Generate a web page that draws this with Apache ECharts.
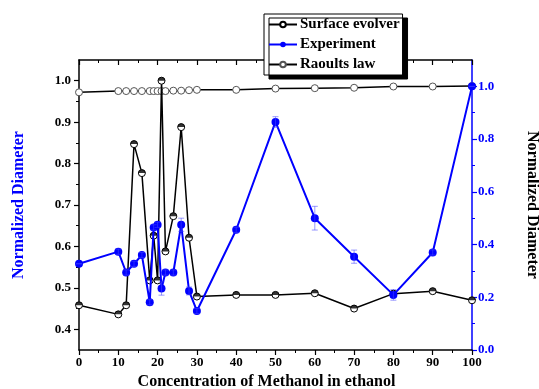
<!DOCTYPE html>
<html>
<head>
<meta charset="utf-8">
<script src="https://cdn.jsdelivr.net/npm/echarts@6/dist/echarts.min.js"></script>
<style>
  html, body { margin: 0; padding: 0; background: #fff; }
  #chart { width: 539px; height: 389px; }
</style>
</head>
<body>
<div id="chart"></div>
<script>
// methanol concentration in ethanol (%)
const concentration = [0, 10, 12, 14, 16, 18, 19, 20, 21, 22, 24, 26, 28, 30, 40, 50, 60, 70, 80, 90, 100];
// left axis
const surfaceEvolver = [0.458, 0.436, 0.458, 0.847, 0.777, 0.518, 0.626, 0.518, 1.0, 0.588, 0.673, 0.888, 0.621, 0.479, 0.483, 0.483, 0.487, 0.450, 0.486, 0.492, 0.470];
const raoultsLaw = [0.972, 0.975, 0.975, 0.975, 0.975, 0.975, 0.975, 0.975, 0.975, 0.975, 0.976, 0.976, 0.977, 0.978, 0.978, 0.981, 0.982, 0.983, 0.986, 0.986, 0.987];
// right axis
const experiment = [0.327, 0.373, 0.294, 0.327, 0.36, 0.181, 0.465, 0.475, 0.233, 0.294, 0.294, 0.475, 0.224, 0.148, 0.456, 0.865, 0.50, 0.354, 0.209, 0.37, 1.0];
const experimentErr = [0, 0.01, 0.01, 0.01, 0.01, 0.01, 0.01, 0.01, 0.025, 0.01, 0.01, 0.025, 0.015, 0.01, 0.01, 0.02, 0.045, 0.025, 0.02, 0.01, 0];

const leftTicks = [0.4, 0.5, 0.6, 0.7, 0.8, 0.9, 1.0];
const leftMinorTicks = [0.45, 0.55, 0.65, 0.75, 0.85, 0.95];
const rightTicks = [0, 0.2, 0.4, 0.6, 0.8, 1.0];
const rightMinorTicks = [0.1, 0.3, 0.5, 0.7, 0.9];

const FONT = '"Liberation Serif", "Times New Roman", serif';
const BLUE = '#0000ff';

const pairs = (ys) => concentration.map((x, i) => [x, ys[i]]);

const chart = echarts.init(document.getElementById('chart'));

const labelStyle = (color) => ({
  color: color, fontFamily: FONT, fontWeight: 'bold', fontSize: 13
});

// grid 1 sits exactly on grid 0 and only carries the minor y ticks
const gridBox = { left: 79, right: 67, top: 60, bottom: 39, outerBoundsMode: 'none', containLabel: false };

const option = {
  animation: false,
  backgroundColor: '#fff',
  grid: [Object.assign({}, gridBox), Object.assign({}, gridBox)],
  legend: {
    orient: 'vertical',
    left: 264,
    top: 14,
    padding: [3, 3, 3, 4],
    itemWidth: 28,
    itemHeight: 7,
    itemGap: 5,
    backgroundColor: '#fff',
    borderColor: '#000',
    borderWidth: 1,
    borderRadius: 0,
    shadowColor: '#000',
    shadowBlur: 0,
    shadowOffsetX: 5,
    shadowOffsetY: 4,
    textStyle: { fontFamily: FONT, fontWeight: 'bold', fontSize: 15, color: '#000', padding: [0, 0, 0, -2] },
    data: ['Surface evolver', 'Experiment', 'Raoults law']
  },
  xAxis: [{
    type: 'value',
    gridIndex: 0,
    min: 0, max: 100, interval: 10,
    name: 'Concentration of Methanol in ethanol',
    nameLocation: 'middle',
    nameGap: 23,
    nameTextStyle: { fontFamily: FONT, fontWeight: 'bold', fontSize: 16, color: '#000', padding: [0, 18, 0, 0] },
    axisLine: { onZero: false, lineStyle: { color: '#000', width: 1.5 } },
    axisTick: { length: 5, lineStyle: { color: '#000', width: 1.2 } },
    minorTick: { show: true, splitNumber: 2, length: 3, lineStyle: { color: '#000', width: 1 } },
    splitLine: { show: false },
    axisLabel: Object.assign({ margin: 6 }, labelStyle('#000'))
  }, {
    type: 'value',
    gridIndex: 0,
    position: 'top',
    min: 0, max: 100, interval: 10,
    axisLine: { onZero: false, lineStyle: { color: '#000', width: 1.5 } },
    axisTick: { inside: true, length: 5, lineStyle: { color: '#000', width: 1.2 } },
    minorTick: { show: true, splitNumber: 2, length: 3, lineStyle: { color: '#000', width: 1 } },
    splitLine: { show: false },
    axisLabel: { show: false }
  }, {
    type: 'value',
    gridIndex: 1,
    min: 0, max: 100,
    show: false
  }],
  yAxis: [{
    type: 'value',
    gridIndex: 0,
    position: 'left',
    min: 0.35, max: 1.05,
    name: 'Normalized Diameter',
    nameLocation: 'middle',
    nameGap: 52,
    nameTextStyle: { fontFamily: FONT, fontWeight: 'bold', fontSize: 16, color: BLUE },
    axisLine: { show: true, onZero: false, lineStyle: { color: '#000', width: 1.5 } },
    axisTick: { show: true, length: 5, customValues: leftTicks, lineStyle: { color: '#000', width: 1.2 } },
    splitLine: { show: false },
    axisLabel: Object.assign({
      margin: 8, customValues: leftTicks,
      formatter: (v) => v.toFixed(1)
    }, labelStyle('#000'))
  }, {
    type: 'value',
    gridIndex: 0,
    position: 'right',
    min: 0, max: 1.1,
    name: 'Normalized Diameter',
    nameLocation: 'middle',
    nameGap: 52,
    nameRotate: -90,
    nameTextStyle: { fontFamily: FONT, fontWeight: 'bold', fontSize: 16, color: '#000' },
    axisLine: { show: true, onZero: false, lineStyle: { color: BLUE, width: 1.5 } },
    axisTick: { show: true, length: 5, customValues: rightTicks, lineStyle: { color: BLUE, width: 1.2 } },
    splitLine: { show: false },
    axisLabel: Object.assign({
      margin: 6, customValues: rightTicks,
      formatter: (v) => v.toFixed(1)
    }, labelStyle(BLUE))
  }, {
    // minor ticks, left
    type: 'value',
    gridIndex: 1,
    position: 'left',
    min: 0.35, max: 1.05,
    axisLine: { show: false },
    axisTick: { show: true, length: 3, customValues: leftMinorTicks, lineStyle: { color: '#000', width: 1 } },
    axisLabel: { show: false },
    splitLine: { show: false }
  }, {
    // minor ticks, right
    type: 'value',
    gridIndex: 1,
    position: 'right',
    min: 0, max: 1.1,
    axisLine: { show: false },
    axisTick: { show: true, length: 3, customValues: rightMinorTicks, lineStyle: { color: BLUE, width: 1 } },
    axisLabel: { show: false },
    splitLine: { show: false }
  }],
  series: [{
    name: 'Raoults law',
    type: 'line',
    yAxisIndex: 0,
    data: pairs(raoultsLaw),
    symbol: 'circle',
    symbolSize: 7,
    lineStyle: { color: '#000', width: 1.5 },
    itemStyle: { color: '#fff', borderColor: '#555', borderWidth: 1 },
    z: 2
  }, {
    name: 'Surface evolver',
    type: 'line',
    yAxisIndex: 0,
    data: pairs(surfaceEvolver),
    symbol: 'circle',
    symbolSize: 7,
    lineStyle: { color: '#000', width: 1.5 },
    itemStyle: { color: '#fff', borderColor: '#000', borderWidth: 1 },
    z: 3
  }, {
    // filled top half of the surface evolver markers
    name: 'Surface evolver',
    type: 'scatter',
    yAxisIndex: 0,
    data: pairs(surfaceEvolver),
    symbol: 'path://M0,5 A5,5 0 0 1 10,5 Z',
    symbolSize: [7, 3.5],
    symbolOffset: [0, -1.75],
    itemStyle: { color: '#000' },
    z: 4
  }, {
    name: 'Experiment',
    type: 'line',
    yAxisIndex: 1,
    data: pairs(experiment),
    symbol: 'circle',
    symbolSize: 8,
    lineStyle: { color: BLUE, width: 2 },
    itemStyle: { color: BLUE },
    z: 5
  }, {
    name: 'Experiment',
    type: 'custom',
    yAxisIndex: 1,
    data: concentration.map((x, i) => [x, experiment[i] - experimentErr[i], experiment[i] + experimentErr[i]]),
    renderItem: (params, api) => {
      const lo = api.coord([api.value(0), api.value(1)]);
      const hi = api.coord([api.value(0), api.value(2)]);
      const w = 3;
      const style = { stroke: 'rgba(70,70,255,0.55)', lineWidth: 1 };
      return {
        type: 'group',
        children: [
          { type: 'line', shape: { x1: lo[0], y1: lo[1], x2: hi[0], y2: hi[1] }, style: style },
          { type: 'line', shape: { x1: lo[0] - w, y1: lo[1], x2: lo[0] + w, y2: lo[1] }, style: style },
          { type: 'line', shape: { x1: hi[0] - w, y1: hi[1], x2: hi[0] + w, y2: hi[1] }, style: style }
        ]
      };
    },
    z: 6
  }]
};

chart.setOption(option);
</script>
</body>
</html>
